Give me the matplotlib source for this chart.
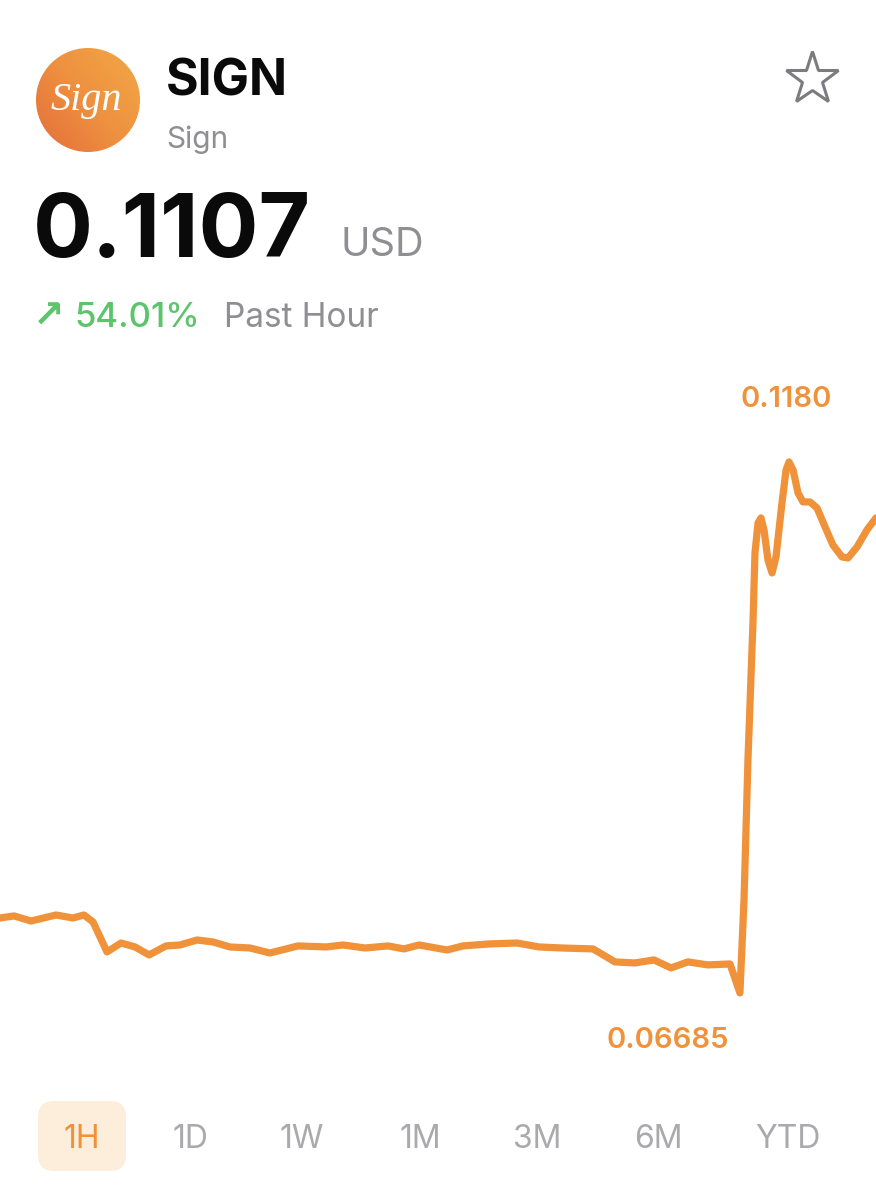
import matplotlib.pyplot as plt
import matplotlib.patches as mpatches
from matplotlib.colors import LinearSegmentedColormap
import numpy as np

# price over the past hour (minutes, USD)
minutes = [0.0, 0.96, 2.12, 3.84, 5.0, 5.75, 6.37, 7.33, 8.29, 9.25, 10.21, 11.37,
           12.33, 13.49, 14.59, 15.75, 17.12, 18.49, 20.41, 22.33, 23.49, 25.0,
           26.58, 27.67, 28.70, 30.62, 31.71, 33.49, 35.41, 36.92, 38.49, 40.62,
           42.12, 43.49, 44.79, 45.96, 47.12, 48.49, 50.0, 50.68, 50.96, 51.23,
           51.58, 51.71, 51.92, 52.12, 52.33, 52.60, 52.88, 53.15, 53.56, 53.84,
           54.04, 54.32, 54.66, 55.00, 55.48, 55.96, 56.51, 57.05, 57.67, 58.08,
           58.70, 59.38, 60.0]
prices = [0.07407, 0.07427, 0.07378, 0.07436, 0.07407, 0.07436, 0.07369, 0.07080,
          0.07166, 0.07128, 0.07051, 0.07138, 0.07147, 0.07195, 0.07176, 0.07128,
          0.07118, 0.07070, 0.07138, 0.07128, 0.07147, 0.07118, 0.07138, 0.07109,
          0.07147, 0.07099, 0.07138, 0.07157, 0.07166, 0.07128, 0.07118, 0.07109,
          0.06984, 0.06974, 0.07003, 0.06926, 0.06984, 0.06955, 0.06964, 0.06685,
          0.07581, 0.08929, 0.10278, 0.10923, 0.11212, 0.11261, 0.11145, 0.10856,
          0.10731, 0.10885, 0.11405, 0.11723, 0.11800, 0.11723, 0.11501, 0.11415,
          0.11415, 0.11357, 0.11174, 0.11000, 0.10885, 0.10875, 0.10981, 0.11145,
          0.11261]

symbol = "SIGN"
name = "Sign"
last_price = "0.1107"
currency = "USD"
change = "54.01%"
period = "Past Hour"
ranges = ["1H", "1D", "1W", "1M", "3M", "6M", "YTD"]

ORANGE = "#F0923A"
GRAY = "#8E8E93"
TAB_GRAY = "#A9A9AE"
GREEN = "#5CC46A"
FONT = ["Inter", "DejaVu Sans"]

# layout (pixels)
TAB_X = [82, 190, 302, 420, 537, 658, 788]

fig = plt.figure(figsize=(8.76, 12), dpi=100)
fig.patch.set_facecolor("white")

# overlay in pixel coordinates for the header and range buttons
ui = fig.add_axes([0, 0, 1, 1])
ui.set_xlim(0, 876)
ui.set_ylim(1200, 0)
ui.axis("off")

# logo: orange gradient disc with script text
gx, gy = np.meshgrid(np.linspace(0, 1, 200), np.linspace(0, 1, 200))
grad = 0.55 * gx + 0.45 * (1 - gy)
logo = mpatches.Circle((88, 100), 52, transform=ui.transData, facecolor="none", edgecolor="none")
ui.add_patch(logo)
cmap = LinearSegmentedColormap.from_list("logo", ["#E46E3A", "#EE9140", "#F2A846"])
im = ui.imshow(grad, extent=[36, 140, 152, 48], cmap=cmap, origin="upper", zorder=1)
im.set_clip_path(logo)
ui.text(86, 110, "Sign", color="white", fontsize=29, family="Liberation Serif",
        style="italic", ha="center", va="baseline", zorder=2)

ui.text(166, 95, symbol, fontsize=36, fontweight="bold", color="#0A0A0A",
        family=FONT, va="baseline")
ui.text(166, 148, name, fontsize=21.5, color=GRAY, family=FONT, va="baseline")

# favourite star
ui.plot(812, 79, marker="*", markersize=40, markerfacecolor="white",
        markeredgecolor="#7C7C80", markeredgewidth=2.2)

ui.text(33, 257, last_price, fontsize=64, fontweight="bold", color="#0A0A0A",
        family=FONT, va="baseline")
ui.text(341, 256, currency, fontsize=28.5, color=GRAY, family=FONT, va="baseline")

ui.text(33, 328, "\u2197", fontsize=27, fontweight="bold", color=GREEN,
        family=["DejaVu Sans"], va="baseline")
ui.text(74, 327, change, fontsize=25, fontweight="medium", color=GREEN,
        family=FONT, va="baseline")
ui.text(224, 327, period, fontsize=24, color=GRAY, family=FONT, va="baseline")

# range selector
sel = mpatches.FancyBboxPatch((38, 1101), 88, 70, boxstyle="round,pad=0,rounding_size=16",
                              facecolor="#FDEEDC", edgecolor="none")
ui.add_patch(sel)
for i, (label, x) in enumerate(zip(ranges, TAB_X)):
    ui.text(x, 1148, label, fontsize=23, color=ORANGE if i == 0 else TAB_GRAY,
            family=FONT, ha="center", va="baseline")

# price line
ax = fig.add_axes([0, 140 / 1200, 1, 720 / 1200])
ax.patch.set_alpha(0)
ax.plot(minutes, prices, color=ORANGE, linewidth=5.2, solid_joinstyle="round",
        solid_capstyle="round")
ax.set_xlim(0, 60)
ax.set_ylim(0.06039, 0.12975)
ax.axis("off")

i_max = int(np.argmax(prices))
i_min = int(np.argmin(prices))
ax.annotate(f"{prices[i_max]:.4f}", (minutes[i_max], prices[i_max]),
            xytext=(-2, 39.5), textcoords="offset points", ha="center", va="baseline",
            fontsize=21, fontweight="semibold", color=ORANGE, family=FONT)
ax.annotate(f"{prices[i_min]:.5f}", (minutes[i_min], prices[i_min]),
            xytext=(-8, -40), textcoords="offset points", ha="right", va="baseline",
            fontsize=21, fontweight="semibold", color=ORANGE, family=FONT)

fig.savefig("out.png", dpi=100, facecolor="white")
